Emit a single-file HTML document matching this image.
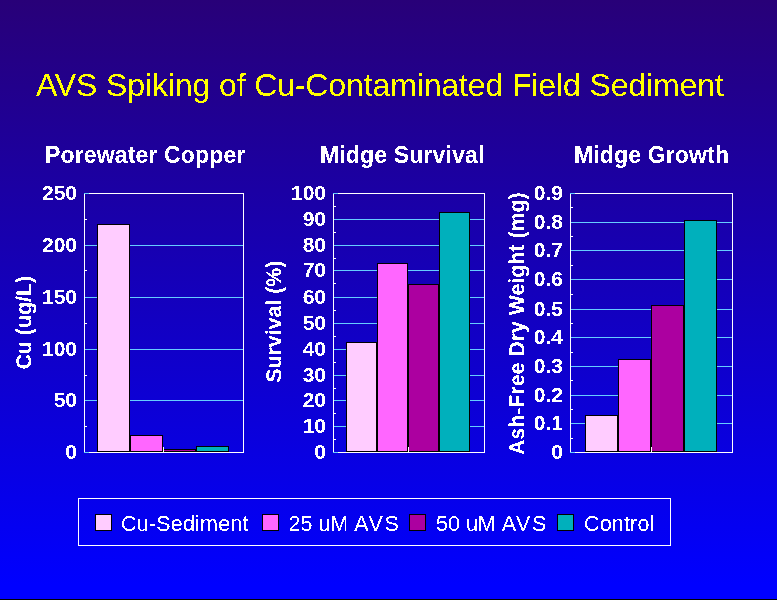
<!DOCTYPE html>
<html>
<head>
<meta charset="utf-8">
<style>
html,body{margin:0;padding:0}
body{width:777px;height:600px;position:relative;overflow:hidden;
background:linear-gradient(to bottom, rgb(40,0,120) 0px, rgb(0,0,255) 585px, rgb(0,0,255) 599px, #000 599px, #000 600px);
font-family:"Liberation Sans",Arial,sans-serif;}
.t{position:absolute;white-space:nowrap;line-height:1;color:#fff;filter:url(#crisp)}
#title{left:36px;top:68.5px;font-size:32px;color:#ff0;letter-spacing:-0.12px}
.ct{font-size:23px;font-weight:bold;top:144px;letter-spacing:0.15px}
.yl{font-size:21px;font-weight:bold;text-align:right;width:60px}
.at{font-size:21.33px;font-weight:bold;transform:rotate(-90deg);transform-origin:center center;text-align:center}
.lg{font-size:21.5px;top:513.5px}
svg{position:absolute;left:0;top:0}
</style>
</head>
<body>
<svg width="0" height="0" style="position:absolute"><filter id="crisp" x="-5%" y="-5%" width="110%" height="110%" color-interpolation-filters="sRGB"><feComponentTransfer><feFuncA type="discrete" tableValues="0 1"/></feComponentTransfer></filter></svg>
<div class="t" id="title">AVS Spiking of Cu-Contaminated Field Sediment</div>

<div class="t ct" style="left:45px">Porewater Copper</div>
<div class="t ct" style="left:320px">Midge Survival</div>
<div class="t ct" style="left:574px">Midge Growth</div>

<svg width="777" height="600" viewBox="0 0 777 600" shape-rendering="crispEdges" fill="none" stroke-width="1">
<path stroke="#66ccff" d="M84 193.5H89M84 245.5H243M84 297.5H243M84 349.5H243M84 400.5H243M84 452.5H89"/>
<rect x="97.5" y="224.5" width="32" height="227" fill="#ffccff" stroke="#000"/>
<rect x="130.5" y="435.5" width="32" height="16" fill="#ff66ff" stroke="#000"/>
<rect x="163.5" y="449.5" width="32" height="2" fill="#ac00a0" stroke="#000"/>
<rect x="196.5" y="446.5" width="32" height="5" fill="#00b0bc" stroke="#000"/>
<path stroke="#fff" d="M89 193.5H244M84.5 194V452M243.5 193V452M89 452.5H244M85 219.5H87M85 270.5H87M85 323.5H87M85 375.5H87M85 426.5H87M163.5 447V452"/>
<path stroke="#66ccff" d="M333 193.5H338M333 219.5H484M333 245.5H484M333 270.5H484M333 297.5H484M333 323.5H484M333 349.5H484M333 375.5H484M333 400.5H484M333 426.5H484M333 452.5H338"/>
<rect x="346.5" y="342.5" width="30" height="109" fill="#ffccff" stroke="#000"/>
<rect x="377.5" y="263.5" width="30" height="188" fill="#ff66ff" stroke="#000"/>
<rect x="408.5" y="284.5" width="30" height="167" fill="#ac00a0" stroke="#000"/>
<rect x="439.5" y="212.5" width="30" height="239" fill="#00b0bc" stroke="#000"/>
<path stroke="#fff" d="M338 193.5H485M333.5 194V452M484.5 193V452M338 452.5H485M334 206.5H336M334 232.5H336M334 258.5H336M334 283.5H336M334 310.5H336M334 336.5H336M334 362.5H336M334 388.5H336M334 413.5H336M334 439.5H336M408.5 447V452"/>
<path stroke="#66ccff" d="M570 193.5H575M570 222.5H732M570 250.5H732M570 279.5H732M570 309.5H732M570 337.5H732M570 366.5H732M570 395.5H732M570 423.5H732M570 452.5H575"/>
<rect x="585.5" y="415.5" width="32" height="36" fill="#ffccff" stroke="#000"/>
<rect x="618.5" y="359.5" width="32" height="92" fill="#ff66ff" stroke="#000"/>
<rect x="651.5" y="305.5" width="32" height="146" fill="#ac00a0" stroke="#000"/>
<rect x="684.5" y="220.5" width="32" height="231" fill="#00b0bc" stroke="#000"/>
<path stroke="#fff" d="M575 193.5H733M570.5 194V452M732.5 193V452M575 452.5H733M571 207.5H573M571 236.5H573M571 265.5H573M571 294.5H573M571 323.5H573M571 352.5H573M571 380.5H573M571 409.5H573M571 438.5H573M651.5 447V452"/>
<rect x="78.5" y="498.5" width="592" height="47" stroke="#fff"/>
<g stroke="#000">
<rect x="95.5" y="514.5" width="16" height="16" fill="#ffccff"/>
<rect x="262.5" y="514.5" width="16" height="16" fill="#ff66ff"/>
<rect x="409.5" y="514.5" width="16" height="16" fill="#ac00a0"/>
<rect x="557.5" y="514.5" width="16" height="16" fill="#00b0bc"/>
</g>
</svg>

<div class="t yl" style="left:17px;top:182px">250</div>
<div class="t yl" style="left:17px;top:234px">200</div>
<div class="t yl" style="left:17px;top:286px">150</div>
<div class="t yl" style="left:17px;top:338px">100</div>
<div class="t yl" style="left:17px;top:389px">50</div>
<div class="t yl" style="left:17px;top:441px">0</div>
<div class="t yl" style="left:266px;top:182px">100</div>
<div class="t yl" style="left:266px;top:208px">90</div>
<div class="t yl" style="left:266px;top:234px">80</div>
<div class="t yl" style="left:266px;top:259px">70</div>
<div class="t yl" style="left:266px;top:286px">60</div>
<div class="t yl" style="left:266px;top:312px">50</div>
<div class="t yl" style="left:266px;top:338px">40</div>
<div class="t yl" style="left:266px;top:364px">30</div>
<div class="t yl" style="left:266px;top:389px">20</div>
<div class="t yl" style="left:266px;top:415px">10</div>
<div class="t yl" style="left:266px;top:441px">0</div>
<div class="t yl" style="left:503px;top:182px">0.9</div>
<div class="t yl" style="left:503px;top:211px">0.8</div>
<div class="t yl" style="left:503px;top:239px">0.7</div>
<div class="t yl" style="left:503px;top:268px">0.6</div>
<div class="t yl" style="left:503px;top:298px">0.5</div>
<div class="t yl" style="left:503px;top:326px">0.4</div>
<div class="t yl" style="left:503px;top:355px">0.3</div>
<div class="t yl" style="left:503px;top:384px">0.2</div>
<div class="t yl" style="left:503px;top:412px">0.1</div>
<div class="t yl" style="left:503px;top:441px">0</div>

<div class="t at" style="left:-25px;top:312px;width:100px">Cu (ug/L)</div>
<div class="t at" style="left:214.5px;top:312px;width:120px">Survival (%)</div>
<div class="t at" style="left:382.5px;top:313px;width:270px">Ash-Free Dry Weight (mg)</div>

<div class="t lg" style="left:121px;letter-spacing:0.2px">Cu-Sediment</div>
<div class="t lg" style="left:288.5px">25 uM <span style="letter-spacing:1.6px">AV</span>S</div>
<div class="t lg" style="left:436px">50 uM <span style="letter-spacing:1.6px">AV</span>S</div>
<div class="t lg" style="left:584px;letter-spacing:0.17px">Control</div>
</body>
</html>
